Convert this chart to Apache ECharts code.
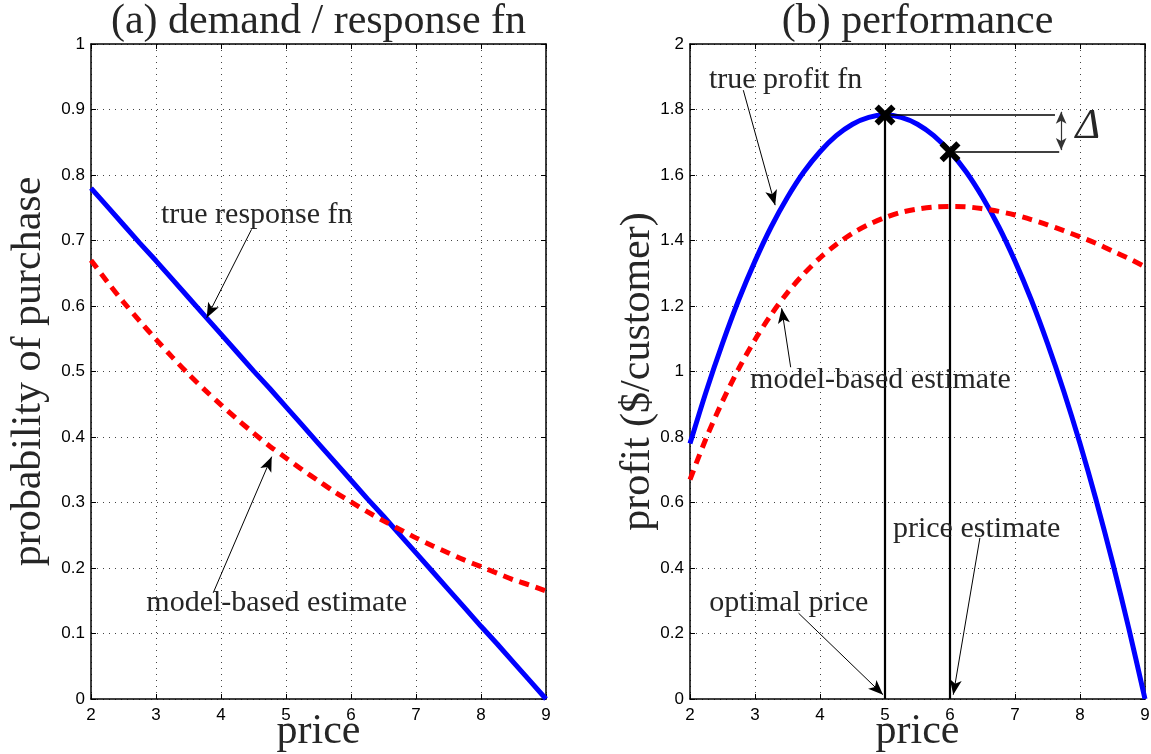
<!DOCTYPE html>
<html>
<head>
<meta charset="utf-8">
<script src="https://cdn.jsdelivr.net/npm/echarts@6/dist/echarts.min.js"></script>
<style>
html,body{margin:0;padding:0;background:#fff;}
#chart{width:1151px;height:754px;}
</style>
</head>
<body>
<div id="chart"></div>
<script>
// ---------------- data ----------------
const prices        = [2, 2.25, 2.5, 2.75, 3, 3.25, 3.5, 3.75, 4, 4.25, 4.5, 4.75, 5, 5.25, 5.5, 5.75,
                       6, 6.25, 6.5, 6.75, 7, 7.25, 7.5, 7.75, 8, 8.25, 8.5, 8.75, 9];
const trueResponse  = [0.780, 0.752, 0.724, 0.696, 0.669, 0.641, 0.613, 0.585, 0.557, 0.529, 0.501, 0.474, 0.446, 0.418, 0.390, 0.362,
                       0.334, 0.306, 0.279, 0.251, 0.223, 0.195, 0.167, 0.139, 0.111, 0.084, 0.056, 0.028, 0.000];
const modelResponse = [0.670, 0.637, 0.606, 0.577, 0.549, 0.522, 0.496, 0.472, 0.449, 0.427, 0.406, 0.386, 0.368, 0.350, 0.333, 0.316,
                       0.301, 0.286, 0.272, 0.259, 0.246, 0.234, 0.223, 0.212, 0.202, 0.192, 0.182, 0.174, 0.165];
const trueProfit    = [0.780, 0.940, 1.086, 1.219, 1.337, 1.442, 1.532, 1.609, 1.671, 1.720, 1.755, 1.776, 1.783, 1.776, 1.755, 1.720,
                       1.671, 1.609, 1.532, 1.442, 1.337, 1.219, 1.086, 0.940, 0.780, 0.606, 0.418, 0.216, 0.000];
const modelProfit   = [0.670, 0.797, 0.909, 1.009, 1.097, 1.174, 1.241, 1.298, 1.347, 1.388, 1.422, 1.449, 1.470, 1.486, 1.496, 1.502,
                       1.504, 1.503, 1.497, 1.489, 1.478, 1.464, 1.448, 1.430, 1.411, 1.391, 1.368, 1.345, 1.320];
const optimalPrice  = 5;
const optimalProfit = 1.783;
const estimatePrice = 6;
const estimateProfit = 1.671;
const xTickLabels   = ['2','3','4','5','6','7','8','9'];
const titles        = ['(a) demand / response fn', '(b) performance'];
const xName         = 'price';
const yNames        = ['probability of purchase', 'profit ($/customer)'];

// annotation texts, anchored in data coordinates (text centre)
const annotLeft = [
  {text: 'true response fn',     at: [4.55, 0.739]},
  {text: 'model-based estimate', at: [4.857, 0.147]}
];
const annotRight = [
  {text: 'true profit fn',       at: [3.47, 1.890]},
  {text: 'model-based estimate', at: [4.93, 0.974]},
  {text: 'price estimate',       at: [6.41, 0.520]},
  {text: 'optimal price',        at: [3.52, 0.294]}
];
// arrows: [from, to] in data coordinates
const arrowsLeft = [
  [[4.47, 0.717], [3.78, 0.582]],
  [[3.88, 0.162], [4.78, 0.370]]
];
const arrowsRight = [
  [[2.82, 1.859], [3.31, 1.508]],
  [[3.549, 1.013], [3.41, 1.193]],
  [[6.46, 0.492], [6.05, 0.013]],
  [[3.67, 0.262], [4.97, 0.013]]
];

// ---------------- chart ----------------
const serif = 'Liberation Serif';
const sans = 'Liberation Sans';
const textColor = '#262626';
const G = [
  {left: 91, top: 44, width: 455, height: 655, containLabel: false, outerBoundsMode: 'none'},
  {left: 690, top: 44, width: 455, height: 655, containLabel: false, outerBoundsMode: 'none'}
];

function xAxes(gi) {
  const common = {
    gridIndex: gi, type: 'value', min: 2, max: 9, interval: 1,
    axisLine: {onZero: false, lineStyle: {color: '#000', width: 1.5}},
    axisTick: {inside: true, length: 5, lineStyle: {color: '#000', width: 1}}
  };
  return [
    Object.assign({}, common, {
      position: 'bottom',
      axisLabel: {color: '#000', fontFamily: sans, fontSize: 17, margin: 8,
        formatter: v => xTickLabels[Math.round(v) - 2]},
      splitLine: {show: true, lineStyle: {type: [1, 5], color: '#444', width: 1}},
      name: xName, nameLocation: 'middle', nameGap: 12, nameMoveOverlap: false,
      nameTextStyle: {fontFamily: serif, fontSize: 42, color: textColor}
    }),
    Object.assign({}, common, {
      position: 'top', axisLabel: {show: false}, splitLine: {show: false}
    })
  ];
}
function yAxes(gi, max, interval, name, gap) {
  const common = {
    gridIndex: gi, type: 'value', min: 0, max: max, interval: interval,
    axisLine: {onZero: false, lineStyle: {color: '#000', width: 1.5}},
    axisTick: {inside: true, length: 5, lineStyle: {color: '#000', width: 1}}
  };
  return [
    Object.assign({}, common, {
      position: 'left',
      axisLabel: {color: '#000', fontFamily: sans, fontSize: 17, margin: 6},
      splitLine: {show: true, lineStyle: {type: [1, 5], color: '#444', width: 1}},
      name: name, nameLocation: 'middle', nameGap: gap, nameMoveOverlap: false,
      nameTextStyle: {fontFamily: serif, fontSize: 42, color: textColor}
    }),
    Object.assign({}, common, {
      position: 'right', axisLabel: {show: false}, splitLine: {show: false}
    })
  ];
}

function pairs(xs, ys) { return xs.map((x, i) => [x, ys[i]]); }

function arrowMarkLine(arrows) {
  return {
    silent: true, symbol: ['none', 'arrow'], symbolSize: [9, 15],
    label: {show: false},
    lineStyle: {color: '#000', width: 1, type: 'solid'},
    emphasis: {disabled: true},
    data: arrows.map(a => [{coord: a[0]}, {coord: a[1]}])
  };
}

const xMarker = 'path://M0,4 L4,0 L10,6 L16,0 L20,4 L14,10 L20,16 L16,20 L10,14 L4,20 L0,16 L6,10 Z';

const option = {
  animation: false,
  backgroundColor: '#fff',
  grid: G,
  xAxis: xAxes(0).concat(xAxes(1)),
  yAxis: yAxes(0, 1, 0.1, yNames[0], 41).concat(yAxes(1, 2, 0.2, yNames[1], 31)),
  series: [
    {
      name: 'true response fn', type: 'line', xAxisIndex: 0, yAxisIndex: 0,
      data: pairs(prices, trueResponse), showSymbol: false, smooth: false,
      lineStyle: {color: '#0000ff', width: 5}, z: 3,
      markLine: arrowMarkLine(arrowsLeft)
    },
    {
      name: 'model-based estimate', type: 'line', xAxisIndex: 0, yAxisIndex: 0,
      data: pairs(prices, modelResponse), showSymbol: false, smooth: 0.3,
      lineStyle: {color: '#ff0000', width: 5, type: [10, 7]}, z: 4
    },
    {
      name: 'true profit fn', type: 'line', xAxisIndex: 2, yAxisIndex: 2,
      data: pairs(prices, trueProfit), showSymbol: false, smooth: 0.3,
      lineStyle: {color: '#0000ff', width: 5}, z: 3,
      markLine: arrowMarkLine(arrowsRight)
    },
    {
      name: 'model-based estimate (profit)', type: 'line', xAxisIndex: 2, yAxisIndex: 2,
      data: pairs(prices, modelProfit), showSymbol: false, smooth: 0.3,
      lineStyle: {color: '#ff0000', width: 5, type: [10, 7]}, z: 4
    },
    {
      name: 'guides', type: 'line', xAxisIndex: 2, yAxisIndex: 2, data: [], z: 5,
      markLine: {
        silent: true, symbol: ['none', 'none'], label: {show: false},
        emphasis: {disabled: true},
        lineStyle: {type: 'solid', color: '#000', width: 1.5},
        data: [
          [{coord: [optimalPrice, 0], lineStyle: {width: 2.2, color: '#000', type: 'solid'}}, {coord: [optimalPrice, optimalProfit]}],
          [{coord: [estimatePrice, 0], lineStyle: {width: 2.2, color: '#000', type: 'solid'}}, {coord: [estimatePrice, estimateProfit]}],
          [{coord: [optimalPrice, optimalProfit], lineStyle: {width: 1.5, color: '#000', type: 'solid'}}, {coord: [7.615, optimalProfit]}],
          [{coord: [estimatePrice, estimateProfit], lineStyle: {width: 1.5, color: '#000', type: 'solid'}}, {coord: [7.68, estimateProfit]}]
        ]
      }
    },
    {
      name: 'delta', type: 'line', xAxisIndex: 2, yAxisIndex: 2, data: [], z: 5,
      markLine: {
        silent: true, symbol: ['arrow', 'arrow'], symbolSize: [8, 12], label: {show: false},
        emphasis: {disabled: true},
        lineStyle: {color: '#333', width: 1.2, type: 'solid'},
        data: [[{coord: [7.71, 1.793]}, {coord: [7.71, 1.676]}]]
      }
    },
    {
      name: 'prices', type: 'scatter', xAxisIndex: 2, yAxisIndex: 2, z: 6,
      symbol: xMarker, symbolSize: 21, itemStyle: {color: '#000', opacity: 1},
      data: [[optimalPrice, optimalProfit], [estimatePrice, estimateProfit]],
      silent: true
    }
  ]
};

const chart = echarts.init(document.getElementById('chart'), null, {renderer: 'canvas'});
chart.setOption(option);

// annotation texts placed through the axes
const graphics = [];
function addText(finder, a, font) {
  const p = chart.convertToPixel(finder, a.at);
  graphics.push({
    type: 'text', x: p[0], y: p[1], silent: true, z: 10,
    style: {text: a.text, font: font, fill: textColor, textAlign: 'center', textVerticalAlign: 'middle'}
  });
}
annotLeft.forEach(a => addText({xAxisIndex: 0, yAxisIndex: 0}, a, '30px "' + serif + '"'));
annotRight.forEach(a => addText({xAxisIndex: 2, yAxisIndex: 2}, a, '30px "' + serif + '"'));
addText({xAxisIndex: 2, yAxisIndex: 2}, {text: 'Δ', at: [8.12, 1.747]}, 'italic 42px "' + serif + '"');
titles.forEach((t, i) => {
  graphics.push({
    type: 'text', x: G[i].left + G[i].width / 2, y: 22, silent: true,
    style: {text: t, font: '42px "' + serif + '"', fill: textColor, textAlign: 'center', textVerticalAlign: 'middle'}
  });
});
chart.setOption({graphic: graphics});
</script>
</body>
</html>
